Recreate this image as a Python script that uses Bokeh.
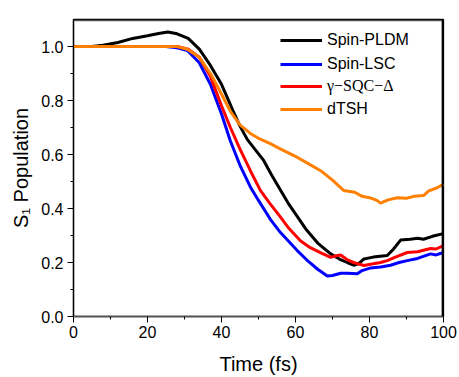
from bokeh.plotting import figure
from bokeh.models import Legend, LegendItem, Range1d, FixedTicker, PrintfTickFormatter, Span
from bokeh.embed import file_html
from bokeh.resources import INLINE

# ---- data ----
pldm_t = [0, 5, 8, 12, 16, 20, 23, 25.5, 28, 31, 34, 37, 40, 41.6, 43, 45, 47, 49, 51.4, 53.5, 56, 58, 60, 63, 66,
          69.5, 72, 74, 75.7, 77, 78.5, 81, 84.8, 86.5, 88.4, 91, 93, 94.6, 97, 100]
pldm_v = [1.0, 1.0, 1.005, 1.015, 1.03, 1.04, 1.048, 1.054, 1.047, 1.03, 0.99, 0.93, 0.86, 0.81, 0.765, 0.705, 0.655,
          0.62, 0.578, 0.525, 0.467, 0.42, 0.38, 0.32, 0.272, 0.232, 0.212, 0.2, 0.19, 0.195, 0.213, 0.22, 0.226,
          0.25, 0.283, 0.286, 0.29, 0.286, 0.297, 0.307]

lsc_t = [0, 20, 25, 28, 30.8, 34, 37, 40, 42.4, 45, 47.8, 50, 53.2, 56, 60.4, 63, 66, 68.6, 70, 72.2, 74, 76.7,
         78, 80.3, 83, 85.7, 88, 90.2, 93, 96.5, 98, 100]
lsc_v = [1.0, 1.0, 1.0, 0.995, 0.985, 0.94, 0.86, 0.75, 0.65, 0.56, 0.48, 0.43, 0.36, 0.31, 0.245, 0.21, 0.175,
         0.15, 0.152, 0.16, 0.16, 0.158, 0.17, 0.18, 0.183, 0.19, 0.2, 0.207, 0.215, 0.232, 0.228, 0.237]

sqc_t = [0, 25, 28, 31, 34, 37, 40, 42.4, 45, 47.8, 50.5, 53, 56, 58, 61.4, 64, 67, 69.5, 71, 72.2, 74, 75.7,
         78.5, 81, 83, 84.8, 87, 90.2, 93, 96.5, 98, 100]
sqc_v = [1.0, 1.0, 1.0, 0.99, 0.96, 0.89, 0.78, 0.70, 0.62, 0.54, 0.467, 0.42, 0.367, 0.33, 0.28, 0.255, 0.235,
         0.219, 0.225, 0.228, 0.21, 0.2, 0.189, 0.195, 0.2, 0.207, 0.22, 0.237, 0.24, 0.252, 0.25, 0.263]

dtsh_t = [0, 25, 28, 30.8, 34, 37, 39, 42.4, 45, 47.8, 50, 53.2, 56, 60.4, 63, 66.8, 70, 73, 76, 78, 80, 82, 83,
          85, 87.5, 90, 92, 94.6, 96, 98, 100]
dtsh_v = [1.0, 1.0, 1.0, 0.99, 0.96, 0.9, 0.85, 0.76, 0.71, 0.678, 0.66, 0.64, 0.62, 0.59, 0.57, 0.54, 0.505,
          0.467, 0.46, 0.445, 0.44, 0.43, 0.42, 0.432, 0.44, 0.438, 0.445, 0.448, 0.465, 0.475, 0.49]

labels = ["Spin-PLDM", "Spin-LSC", "\u03b3\u2212SQC\u2212\u0394", "dTSH"]
colors = ["black", "#0000ff", "#ff0000", "#ff8000"]
x_ticks = [0, 20, 40, 60, 80, 100]
x_minor = [10, 30, 50, 70, 90]
y_ticks = [0.0, 0.2, 0.4, 0.6, 0.8, 1.0]
y_minor = [0.1, 0.3, 0.5, 0.7, 0.9]
x_lim = (0, 100)
y_lim = (0, 1.1)

FONT = "Liberation Sans"

p = figure(width=459, height=377, output_backend="svg", toolbar_location=None,
           x_range=Range1d(*x_lim), y_range=Range1d(*y_lim),
           min_border_left=73, min_border_right=16, min_border_top=19, min_border_bottom=61,
           x_axis_label="Time (fs)", y_axis_label="S\u2081 Population")
p.grid.visible = False
p.outline_line_color = "black"
p.outline_line_width = 1.3
p.background_fill_color = "white"
p.border_fill_color = "white"

series = [(pldm_t, pldm_v), (lsc_t, lsc_v), (sqc_t, sqc_v), (dtsh_t, dtsh_v)]
renderers = []
for (t, v), c in zip(series, colors):
    renderers.append(p.line(t, v, line_color=c, line_width=3))

# frame edges just inside the range ends (top and right)
p.add_layout(Span(location=y_lim[1] - 0.004, dimension="width", line_color="#555555", line_width=1.5))
p.add_layout(Span(location=x_lim[1] - 0.3, dimension="height", line_color="black", line_width=1.5))

def style_axis(ax):
    ax.axis_line_color = "black"
    ax.axis_line_width = 1.3
    ax.major_tick_line_color = "black"
    ax.minor_tick_line_color = "black"
    ax.major_tick_in = 0
    ax.major_tick_out = 6
    ax.minor_tick_in = 0
    ax.minor_tick_out = 3
    ax.major_label_text_font = FONT
    ax.major_label_text_font_size = "16px"
    ax.major_label_text_color = "black"
    ax.axis_label_text_font = FONT
    ax.axis_label_text_font_size = "20px"
    ax.axis_label_text_font_style = "normal"
    ax.axis_label_text_color = "black"

p.xaxis.ticker = FixedTicker(ticks=x_ticks, minor_ticks=x_minor)
p.yaxis.ticker = FixedTicker(ticks=y_ticks, minor_ticks=y_minor)
p.yaxis.formatter = PrintfTickFormatter(format="%.1f")
style_axis(p.xaxis[0])
style_axis(p.yaxis[0])
p.xaxis[0].axis_line_color = "#555555"
p.xaxis[0].axis_label_standoff = 12
p.yaxis[0].axis_label_standoff = 6
p.xaxis[0].major_label_standoff = 3
p.yaxis[0].major_label_standoff = 4

def make_legend(idx, loc, font):
    lg = Legend(items=[LegendItem(label=labels[i], renderers=[renderers[i]]) for i in idx],
                location=loc, orientation="vertical")
    lg.background_fill_alpha = 0
    lg.border_line_color = None
    lg.padding = 0
    lg.margin = 0
    lg.spacing = 6
    lg.glyph_width = 42
    lg.glyph_height = 18
    lg.label_height = 18
    lg.label_standoff = 5
    lg.label_text_font = font
    lg.label_text_font_size = "16px"
    lg.label_text_color = "black"
    return lg

# frame is 370 x 297 px; legend positions in screen px from frame bottom-left
p.add_layout(make_legend([0, 1], (207, 243), FONT), "center")
p.add_layout(make_legend([2], (207, 221), "Liberation Serif"), "center")
p.add_layout(make_legend([3], (207, 198), FONT), "center")

open("out.html", "w").write(file_html(p, INLINE))
